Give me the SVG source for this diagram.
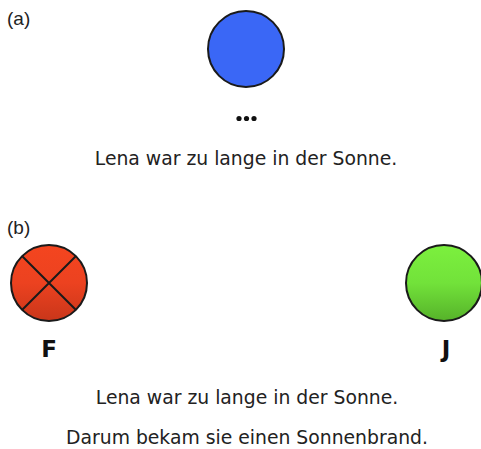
<svg xmlns="http://www.w3.org/2000/svg" width="481" height="449" viewBox="0 0 481 449">
<defs>
<linearGradient id="gRed" x1="0" y1="0" x2="0" y2="1"><stop offset="0" stop-color="#f4451f"/><stop offset="0.5" stop-color="#ec4220"/><stop offset="1" stop-color="#c9361a"/></linearGradient>
<linearGradient id="gGreen" x1="0" y1="0" x2="0" y2="1"><stop offset="0" stop-color="#7cf03e"/><stop offset="0.5" stop-color="#72e23a"/><stop offset="1" stop-color="#56b22a"/></linearGradient>
</defs>
<style>
.node{stroke:#1a1a1a;stroke-width:2}
.lbl{font-family:"Liberation Sans",Arial,sans-serif;font-size:19px;fill:#222}
.txt{font-family:"DejaVu Sans",Verdana,sans-serif;font-size:18.8px;fill:#222;text-anchor:middle}
.big{font-family:"DejaVu Sans",Verdana,sans-serif;font-size:23px;font-weight:bold;fill:#111;text-anchor:middle}
</style>
<rect width="481" height="449" fill="#ffffff"/>
<text class="lbl" x="7" y="25">(a)</text>
<g id="blue"><circle class="node" cx="246" cy="49" r="38" fill="#3a67f6"/></g>
<g id="dots" fill="#111"><circle cx="239" cy="118.5" r="2.6"/><circle cx="246.5" cy="118.5" r="2.6"/><circle cx="254" cy="118.5" r="2.6"/></g>
<text class="txt" x="246" y="165">Lena war zu lange in der Sonne.</text>
<text class="lbl" x="7" y="234">(b)</text>
<g id="F"><circle class="node" cx="49" cy="283" r="38" fill="url(#gRed)"/><path d="M22,256 L76,310 M76,256 L22,310" stroke="#1a1a1a" stroke-width="2"/><text class="big" x="49" y="357">F</text></g>
<g id="J"><circle class="node" cx="444" cy="283" r="38" fill="url(#gGreen)"/><text class="big" x="446" y="357">J</text></g>
<g id="connectors"/>
<text class="txt" x="247" y="404">Lena war zu lange in der Sonne.</text>
<text class="txt" x="247" y="444">Darum bekam sie einen Sonnenbrand.</text>
</svg>
